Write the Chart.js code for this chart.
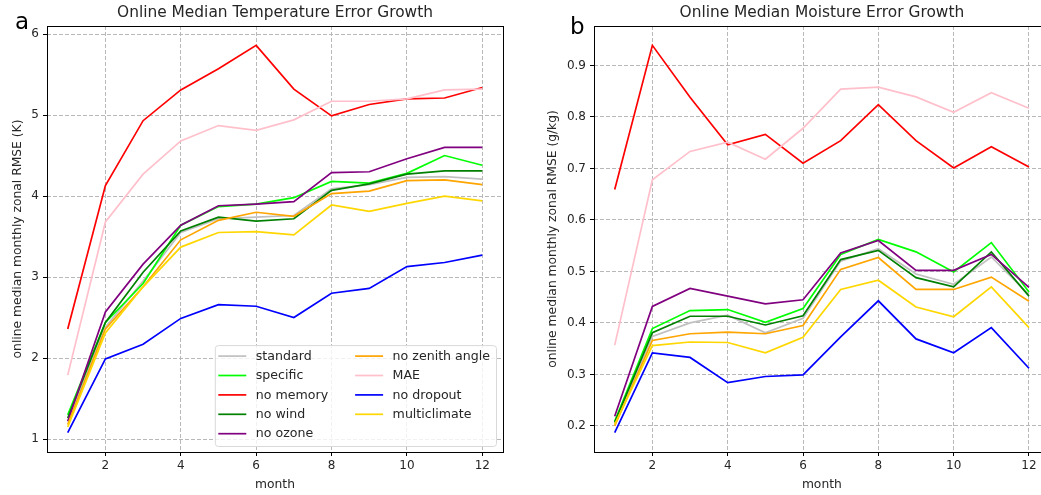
<!DOCTYPE html>
<html>
<head>
<meta charset="utf-8">
<title>Online median error growth</title>
<script src="https://cdn.jsdelivr.net/npm/chart.js@4.4.1/dist/chart.umd.min.js"></script>
<style>
    html, body { margin: 0; padding: 0; background: #fff; overflow: hidden; }
    .figure { position: relative; width: 1041px; height: 495px; overflow: hidden; }
    .panel { position: absolute; top: 0; height: 495px; }
    #panel-a { left: 0; width: 520px; }
    #panel-b { left: 520px; width: 540px; }
</style>
</head>
<body>
<div class="figure">
    <div class="panel" id="panel-a"><canvas id="temp-chart" width="520" height="495"></canvas></div>
    <div class="panel" id="panel-b"><canvas id="moist-chart" width="540" height="495"></canvas></div>
</div>
<script>
// ─── data ───────────────────────────────────────────────────────────────────

const months = [1, 2, 3, 4, 5, 6, 7, 8, 9, 10, 11, 12];
const monthTicks = [2, 4, 6, 8, 10, 12];
const tempTicks = [1, 2, 3, 4, 5, 6];
const moistTicks = [0.2, 0.3, 0.4, 0.5, 0.6, 0.7, 0.8, 0.9];

const runNames = ['standard', 'specific', 'no memory', 'no wind', 'no ozone',
    'no zenith angle', 'MAE', 'no dropout', 'multiclimate'];

// temperature RMSE (K)
const tempStandard     = [1.22, 2.38, 2.95, 3.55, 3.72, 3.74, 3.76, 4.09, 4.14, 4.23, 4.24, 4.21];
const tempSpecific     = [1.30, 2.44, 2.92, 3.64, 3.87, 3.90, 3.98, 4.18, 4.16, 4.28, 4.50, 4.38];
const tempNoMemory     = [2.36, 4.13, 4.93, 5.31, 5.57, 5.86, 5.32, 4.99, 5.13, 5.20, 5.21, 5.34];
const tempNoWind       = [1.26, 2.44, 3.06, 3.57, 3.74, 3.69, 3.72, 4.07, 4.15, 4.27, 4.31, 4.31];
const tempNoOzone      = [1.22, 2.57, 3.16, 3.64, 3.88, 3.90, 3.93, 4.29, 4.30, 4.46, 4.60, 4.60];
const tempNoZenith     = [1.18, 2.36, 2.88, 3.46, 3.70, 3.80, 3.75, 4.03, 4.06, 4.19, 4.20, 4.14];
const tempMAE          = [1.79, 3.68, 4.27, 4.68, 4.87, 4.81, 4.94, 5.17, 5.17, 5.20, 5.31, 5.32];
const tempNoDropout    = [1.08, 1.99, 2.17, 2.49, 2.66, 2.64, 2.50, 2.80, 2.86, 3.13, 3.18, 3.27];
const tempMulticlimate = [1.15, 2.31, 2.88, 3.37, 3.55, 3.56, 3.52, 3.89, 3.81, 3.91, 4.00, 3.94];

// moisture RMSE (g/kg)
const moistStandard     = [0.205, 0.374, 0.400, 0.415, 0.381, 0.409, 0.520, 0.544, 0.495, 0.475, 0.528, 0.455];
const moistSpecific     = [0.209, 0.389, 0.424, 0.426, 0.401, 0.428, 0.533, 0.562, 0.538, 0.499, 0.556, 0.460];
const moistNoMemory     = [0.659, 0.939, 0.838, 0.746, 0.766, 0.710, 0.754, 0.824, 0.754, 0.701, 0.742, 0.703];
const moistNoWind       = [0.207, 0.381, 0.413, 0.413, 0.396, 0.414, 0.523, 0.541, 0.488, 0.470, 0.538, 0.452];
const moistNoOzone      = [0.219, 0.432, 0.467, 0.452, 0.437, 0.445, 0.536, 0.560, 0.502, 0.502, 0.533, 0.469];
const moistNoZenith     = [0.200, 0.366, 0.379, 0.382, 0.379, 0.395, 0.504, 0.527, 0.465, 0.465, 0.489, 0.442];
const moistMAE          = [0.357, 0.678, 0.733, 0.751, 0.718, 0.778, 0.854, 0.858, 0.839, 0.809, 0.847, 0.817];
const moistNoDropout    = [0.187, 0.342, 0.333, 0.284, 0.296, 0.299, 0.373, 0.443, 0.369, 0.342, 0.391, 0.312];
const moistMulticlimate = [0.203, 0.356, 0.363, 0.362, 0.342, 0.372, 0.465, 0.483, 0.431, 0.412, 0.470, 0.391];

const tempSeries = [tempStandard, tempSpecific, tempNoMemory, tempNoWind, tempNoOzone,
    tempNoZenith, tempMAE, tempNoDropout, tempMulticlimate];
const moistSeries = [moistStandard, moistSpecific, moistNoMemory, moistNoWind, moistNoOzone,
    moistNoZenith, moistMAE, moistNoDropout, moistMulticlimate];

// ─── style ──────────────────────────────────────────────────────────────────

const runColors = ['#c0c0c0', '#00ff00', '#ff0000', '#008000', '#800080',
    '#ffa500', '#ffc0cb', '#0000ff', '#ffd700'];
const FONT = 'DejaVu Sans';
const TEXT = '#262626';
const GRID = '#b8b8b8';

// matplotlib-style autoscale: data range plus 5% each side
function padded(series, frac = 0.05) {
    const all = series.flat();
    const lo = Math.min(...all), hi = Math.max(...all);
    const m = (hi - lo) * frac;
    return {min: lo - m, max: hi + m};
}

// ─── plugins ────────────────────────────────────────────────────────────────

// full box round the plot area
const framePlugin = {
    id: 'frame',
    afterDatasetsDraw(chart) {
        const {ctx, chartArea: a} = chart;
        ctx.save();
        ctx.strokeStyle = '#000';
        ctx.lineWidth = 1;
        ctx.strokeRect(Math.round(a.left) + 0.5, Math.round(a.top) + 0.5,
            Math.round(a.right - a.left), Math.round(a.bottom - a.top));
        ctx.restore();
    }
};

// panel letter, glyph top aligned to a fixed line
const letterPlugin = {
    id: 'panelLetter',
    afterDraw(chart, args, opts) {
        if (!opts.text) return;
        const {ctx} = chart;
        ctx.save();
        ctx.font = `23px "${FONT}"`;
        ctx.fillStyle = '#000';
        ctx.textAlign = 'left';
        ctx.textBaseline = 'alphabetic';
        const m = ctx.measureText(opts.text);
        ctx.fillText(opts.text, opts.x, opts.top + m.actualBoundingBoxAscent);
        ctx.restore();
    }
};

// two-column, column-major legend in the lower right corner
const boxLegendPlugin = {
    id: 'boxLegend',
    afterDraw(chart, args, opts) {
        if (!opts.display) return;
        const {ctx, chartArea: a} = chart;
        const sets = chart.data.datasets;
        const rows = Math.ceil(sets.length / 2);
        const cols = [sets.slice(0, rows), sets.slice(rows)];

        const rowGap = 19.4, handle = 28, handleGap = 9.5, colGap = 27;
        const padL = 3.5, padR = 6, padT = 11, padB = 12.3;

        ctx.save();
        ctx.font = `12.6px "${FONT}"`;
        const colW = cols.map(c => Math.max(...c.map(d => ctx.measureText(d.label).width)));
        const w = padL + handle + handleGap + colW[0] + colGap + handle + handleGap + colW[1] + padR;
        const h = padT + (rows - 1) * rowGap + padB;
        const x0 = a.right - 7 - w;
        const y0 = a.bottom - 6 - h;

        ctx.beginPath();
        ctx.roundRect(x0 + 0.5, y0 + 0.5, w, h, 3);
        ctx.fillStyle = 'rgba(255,255,255,0.8)';
        ctx.fill();
        ctx.strokeStyle = '#d9d9d9';
        ctx.lineWidth = 1;
        ctx.stroke();

        ctx.textBaseline = 'middle';
        ctx.textAlign = 'left';
        let cx = x0 + padL;
        cols.forEach((col, ci) => {
            col.forEach((d, ri) => {
                const y = y0 + padT + ri * rowGap;
                ctx.strokeStyle = d.borderColor;
                ctx.lineWidth = d.borderWidth;
                ctx.beginPath();
                ctx.moveTo(cx, y);
                ctx.lineTo(cx + handle, y);
                ctx.stroke();
                ctx.fillStyle = TEXT;
                ctx.fillText(d.label, cx + handle + handleGap, y + 0.5);
            });
            cx += handle + handleGap + colW[ci] + colGap;
        });
        ctx.restore();
    }
};

// ─── chart builder ──────────────────────────────────────────────────────────

function buildChart(canvasId, cfg) {
    const n = cfg.series.length;
    const datasets = cfg.series.map((vals, i) => ({
        label: runNames[i],
        data: months.map((m, k) => ({x: m, y: vals[k]})),
        borderColor: runColors[i],
        backgroundColor: runColors[i],
        borderWidth: 1.7,
        pointRadius: 0,
        tension: 0,
        fill: false,
        order: n - i,   // later runs sit on top
    }));
    const yRange = padded(cfg.series);

    return new Chart(document.getElementById(canvasId), {
        type: 'line',
        data: {datasets},
        plugins: [framePlugin, letterPlugin, boxLegendPlugin],
        options: {
            responsive: false,
            animation: false,
            events: [],
            layout: {padding: {top: 0, left: 0, bottom: 0, right: cfg.padRight}},
            plugins: {
                legend: {display: false},
                tooltip: {enabled: false},
                title: {
                    display: true,
                    text: cfg.title,
                    fullSize: false,
                    color: TEXT,
                    font: {family: FONT, size: 15.4, weight: 'normal'},
                    padding: {top: 3.8, bottom: 3.7},
                },
                panelLetter: cfg.letter,
                boxLegend: {display: cfg.legend},
            },
            scales: {
                x: {
                    type: 'linear',
                    min: 0.45,
                    max: 12.55,
                    afterBuildTicks: s => { s.ticks = monthTicks.map(v => ({value: v})); },
                    afterFit: s => { s.height = 43; },
                    ticks: {color: TEXT, font: {family: FONT, size: 12}, padding: 3, maxRotation: 0,
                        callback: v => String(v)},
                    grid: {color: GRID, lineWidth: 1, tickColor: '#000', tickLength: 4, tickWidth: 1},
                    border: {display: false, dash: [4, 2]},
                    title: {display: true, text: 'month', color: TEXT,
                        font: {family: FONT, size: 12.3}, padding: {top: 0, bottom: 2.8}},
                },
                y: {
                    type: 'linear',
                    min: yRange.min,
                    max: yRange.max,
                    afterBuildTicks: s => { s.ticks = cfg.yTicks.map(v => ({value: v})); },
                    afterFit: s => { s.width = cfg.axisWidth; },
                    ticks: {color: TEXT, font: {family: FONT, size: 12}, padding: 4,
                        callback: v => v.toFixed(cfg.digits)},
                    grid: {color: GRID, lineWidth: 1, tickColor: '#000', tickLength: 4, tickWidth: 1},
                    border: {display: false, dash: [4, 2]},
                    title: {display: true, text: cfg.yTitle, color: TEXT,
                        font: {family: FONT, size: 12.3}, padding: {top: cfg.yTitlePad, bottom: 0}},
                },
            },
        },
    });
}

buildChart('temp-chart', {
    series: tempSeries,
    title: 'Online Median Temperature Error Growth',
    yTitle: 'online median monthly zonal RMSE (K)',
    yTicks: tempTicks,
    digits: 0,
    axisWidth: 47,
    padRight: 17,
    yTitlePad: 10.6,
    letter: {text: 'a', x: 15, top: 16},
    legend: true,
});

buildChart('moist-chart', {
    series: moistSeries,
    title: 'Online Median Moisture Error Growth',
    yTitle: 'online median monthly zonal RMSE (g/kg)',
    yTicks: moistTicks,
    digits: 1,
    axisWidth: 74,
    padRight: 10.3,
    yTitlePad: 25.1,
    letter: {text: 'b', x: 50, top: 16},
    legend: false,
});
</script>
</body>
</html>
